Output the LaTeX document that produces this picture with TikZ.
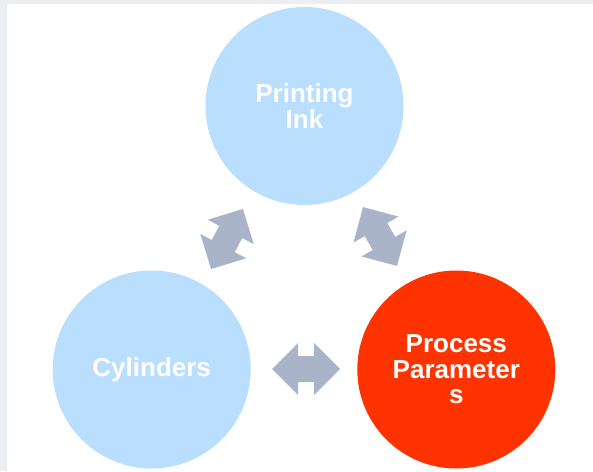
\documentclass[tikz,border=0pt]{standalone}
\usepackage{fontspec}
\setmainfont{Liberation Sans}
\definecolor{lightblue}{RGB}{185,222,254}
\definecolor{hotred}{RGB}{255,51,0}
\definecolor{arrowgray}{RGB}{169,180,201}
\definecolor{framegray}{RGB}{237,238,242}
\begin{document}
\begin{tikzpicture}[x=1pt,y=1pt,
  bubble/.style={circle,minimum size=198pt,inner sep=0pt,align=center,
    text=white,font=\bfseries\fontsize{26}{25.5}\selectfont},
  dblarrow/.pic={\fill[arrowgray] (-34,0) -- (-8,26) -- (-8,13) -- (8,13) -- (8,26) -- (34,0)
      -- (8,-26) -- (8,-13) -- (-8,-13) -- (-8,-26) -- cycle;}]
\useasboundingbox (0,0) rectangle (593,471);
\fill[framegray] (0,0) rectangle (593,471);
\fill[white] (7,0) rectangle (593,467);
\node[bubble,fill=lightblue] (ink) at (304.5,365) {Printing\\Ink};
\node[bubble,fill=lightblue] (cyl) at (151.7,101.5) {Cylinders};
\node[bubble,fill=hotred] (proc) at (456.3,101.5) {Process\\Parameter\\s};
\pic[rotate=62] at (227,232) {dblarrow};
\pic[rotate=-60] at (380,234.5) {dblarrow};
\pic at (306,102) {dblarrow};
\end{tikzpicture}
\end{document}
